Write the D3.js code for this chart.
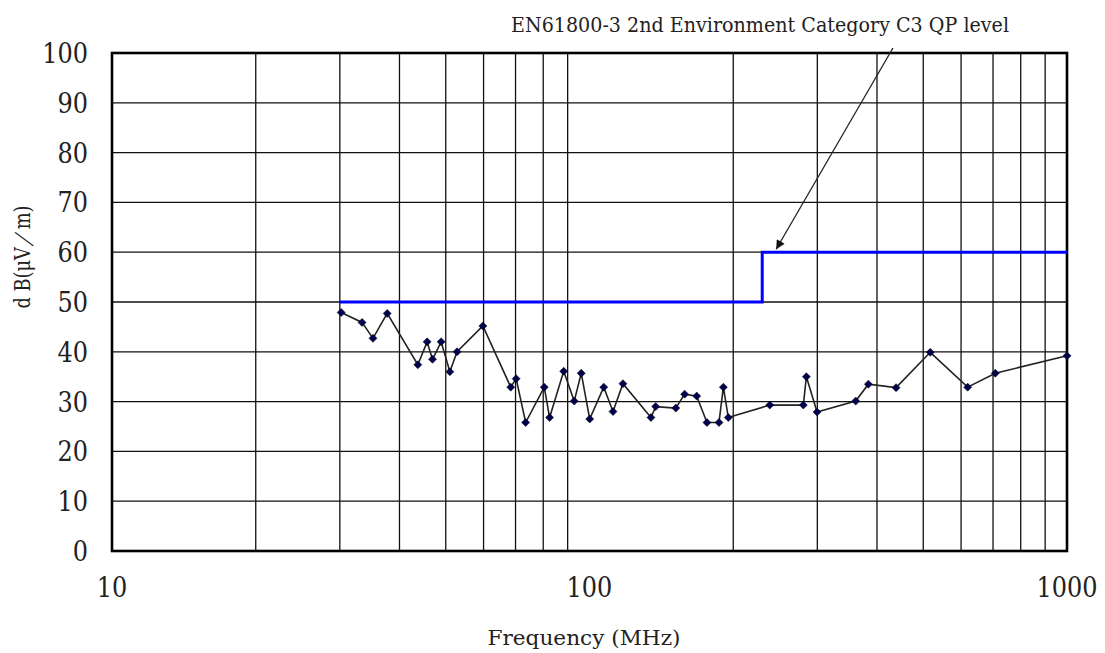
<!DOCTYPE html>
<html><head><meta charset="utf-8">
<script src="https://cdn.jsdelivr.net/npm/d3@7"></script>
<style>body{margin:0;background:#fff}svg{display:block}</style>
</head><body>
<svg id="c" width="1105" height="653"></svg>
<script>
// ---- data ----
const freqMHz = [30.2, 33.4, 35.2, 37.7, 43.7, 45.7, 46.9, 48.9, 51.0, 52.8, 59.8, 68.4, 70.2, 73.5, 80.4, 82.5, 88.3, 92.9, 96.1, 100.1, 107.1, 112.0, 117.5, 134.5, 137.6, 151.6, 158.2, 167.7, 176.2, 186.7, 190.7, 195.3, 238.5, 280.4, 284.6, 299.6, 361, 383.7, 438.5, 517.2, 619.4, 707.8, 1000];
const levelDB = [47.9, 45.9, 42.7, 47.7, 37.4, 42.0, 38.5, 42.0, 36.0, 40.0, 45.2, 32.9, 34.6, 25.8, 32.9, 26.8, 36.1, 30.1, 35.7, 26.5, 32.9, 28.0, 33.6, 26.8, 29.0, 28.7, 31.5, 31.1, 25.8, 25.8, 32.9, 26.8, 29.3, 29.3, 35.0, 27.9, 30.1, 33.5, 32.8, 39.9, 32.9, 35.7, 39.2];
const limitFreq = [30, 230, 230, 1000];
const limitLevel = [50, 50, 60, 60];
const xTickLabels = [10, 100, 1000];
const yTickLabels = [0, 10, 20, 30, 40, 50, 60, 70, 80, 90, 100];
const annotationText = "EN61800-3 2nd Environment Category C3 QP level";
const annotationFrom = [432, 101];
const annotationTo = [246, 60.6];
const xTitle = "Frequency (MHz)";
const yTitle = "d B(μV／m)";

// ---- layout ----
const L = 112, R = 1067, T = 53, B = 551;
const svg = d3.select("#c");
const font = "'DejaVu Serif', 'Liberation Serif', serif";
const x = d3.scaleLog().domain([10, 1000]).range([L, R]);
const y = d3.scaleLinear().domain([0, 100]).range([B, T]);

// grid
const vGrid = [];
for (let d = 10; d < 1000; d *= 10) for (let k = 2; k <= 9; k++) vGrid.push(d * k);
svg.append("g").selectAll("line").data(vGrid).join("line")
  .attr("x1", d => x(d)).attr("x2", d => x(d)).attr("y1", T).attr("y2", B)
  .attr("stroke", "#111").attr("stroke-width", 1.3);
svg.append("g").selectAll("line").data(yTickLabels.slice(1, -1)).join("line")
  .attr("x1", L).attr("x2", R).attr("y1", d => y(d)).attr("y2", d => y(d))
  .attr("stroke", "#111").attr("stroke-width", 1.3);
svg.append("rect").attr("x", L).attr("y", T).attr("width", R - L).attr("height", B - T)
  .attr("fill", "none").attr("stroke", "#000").attr("stroke-width", 2.6);

// tick labels
svg.append("g").selectAll("text").data(yTickLabels).join("text")
  .attr("x", 88).attr("y", d => y(d)).attr("dy", "0.36em")
  .attr("text-anchor", "end").attr("font-family", font).attr("font-size", 24).attr("fill", "#222")
  .attr("transform", d => `translate(0,${y(d)}) scale(1,1.15) translate(0,${-y(d)})`)
  .text(d => d);
svg.append("g").selectAll("text").data(xTickLabels).join("text")
  .attr("x", d => x(d)).attr("y", 587).attr("dy", "0.36em")
  .attr("text-anchor", "middle").attr("font-family", font).attr("font-size", 24).attr("fill", "#222")
  .attr("transform", `translate(0,587) scale(1,1.15) translate(0,-587)`)
  .text(d => d);

// axis titles
svg.append("text").attr("x", 584).attr("y", 645).attr("text-anchor", "middle")
  .attr("font-family", font).attr("font-size", 21).attr("fill", "#222")
  .attr("textLength", 193).attr("lengthAdjust", "spacingAndGlyphs").text(xTitle);
svg.append("text").attr("transform", "translate(30,257) rotate(-90)").attr("text-anchor", "middle")
  .attr("font-family", font).attr("font-size", 22).attr("fill", "#222")
  .attr("textLength", 103).attr("lengthAdjust", "spacingAndGlyphs").text(yTitle);

// limit line
const limit = limitFreq.map((f, i) => [f, limitLevel[i]]);
svg.append("path").datum(limit)
  .attr("d", d3.line().x(d => x(d[0])).y(d => y(d[1])))
  .attr("fill", "none").attr("stroke", "#0000ff").attr("stroke-width", 3);

// data line
const pts = freqMHz.map((f, i) => [f, levelDB[i]]);
svg.append("path").datum(pts)
  .attr("d", d3.line().x(d => x(d[0])).y(d => y(d[1])))
  .attr("fill", "none").attr("stroke", "#222").attr("stroke-width", 1.6);
svg.append("g").selectAll("path").data(pts).join("path")
  .attr("transform", d => `translate(${x(d[0])},${y(d[1])}) rotate(45)`)
  .attr("d", d3.symbol().type(d3.symbolSquare).size(32))
  .attr("fill", "#000050").attr("stroke", "#000").attr("stroke-width", 0.5);

// annotation
svg.append("defs").append("marker").attr("id", "ah")
  .attr("viewBox", "0 0 10 10").attr("refX", 10).attr("refY", 5)
  .attr("markerWidth", 10).attr("markerHeight", 9).attr("markerUnits", "userSpaceOnUse")
  .attr("orient", "auto")
  .append("path").attr("d", "M0,0 L10,5 L0,10 z").attr("fill", "#111");
svg.append("line")
  .attr("x1", x(annotationFrom[0])).attr("y1", y(annotationFrom[1]))
  .attr("x2", x(annotationTo[0])).attr("y2", y(annotationTo[1]))
  .attr("stroke", "#222").attr("stroke-width", 1.3).attr("marker-end", "url(#ah)");
svg.append("text").attr("x", 511).attr("y", 32)
  .attr("font-family", font).attr("font-size", 21).attr("fill", "#222")
  .attr("textLength", 498).attr("lengthAdjust", "spacingAndGlyphs").text(annotationText);
</script>
</body></html>
